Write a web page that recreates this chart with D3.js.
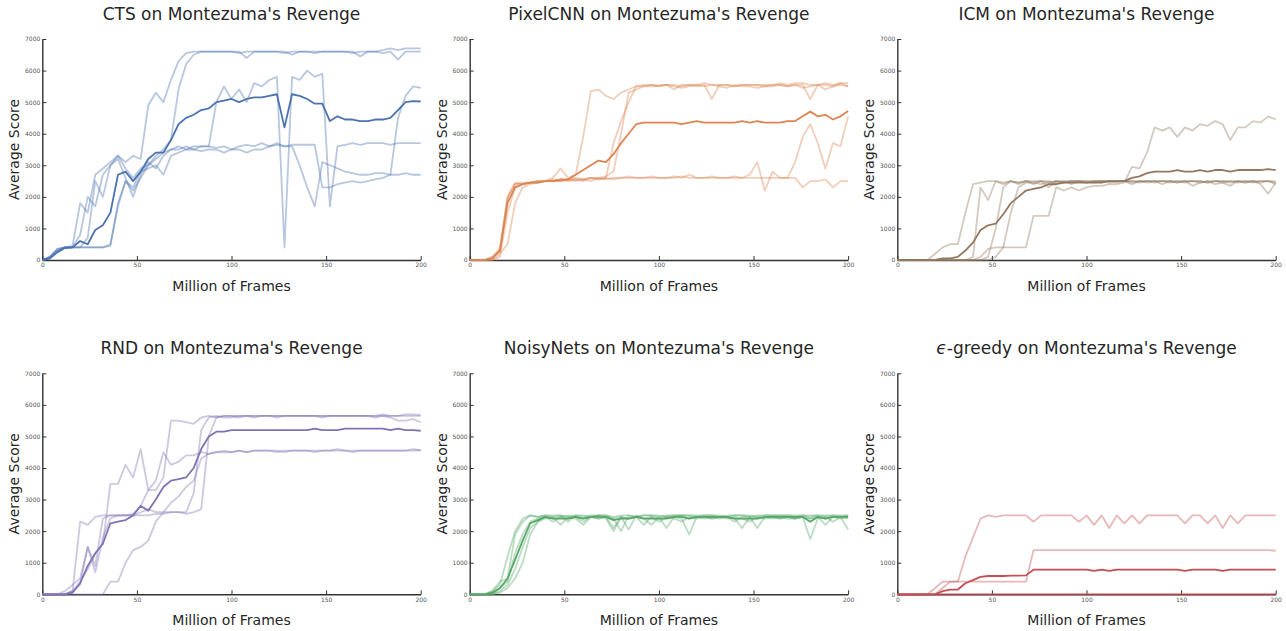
<!DOCTYPE html>
<html>
<head>
<meta charset="utf-8">
<script src="https://cdn.jsdelivr.net/npm/d3@7"></script>
<style>
body { margin: 0; background: #fff; }
svg { display: block; }
</style>
</head>
<body>
<div id="chart"></div>
<script>
// x positions (million frames) shared by every run
const frames = [0,4,8,12,16,20,24,28,32,36,40,44,48,52,56,60,64,68,72,76,80,84,88,92,96,100,
  104,108,112,116,120,124,128,132,136,140,144,148,152,156,160,164,168,172,176,180,184,188,192,196,200];
const xTicks = [0, 50, 100, 150, 200];
const yTicks = [0, 1000, 2000, 3000, 4000, 5000, 6000, 7000];

// CTS
const ctsRun1 = [0,100,300,400,450,1800,1500,2700,2900,3100, 3300,3100,3300,3200,4900,5300,5000,5700,6300,6550,
  6600,6600,6600,6600,6600,6600,6550,6600,6600,6600, 6600,6600,6600,6500,6600,6600,6600,6600,6600,6600,
  6600,6550,6600,6600,6600,6650,6700,6650,6700,6700,6700];
const ctsRun2 = [0,50,250,400,400,400,700,2500,2000,3000, 3300,2900,2600,2900,3000,3300,3500,3800,5400,6200,
  6500,6600,6600,6600,6600,6600,6600,6400,6600,6600, 6600,6600,6550,6600,6600,6600,6550,6600,6600,6600,
  6600,6600,6450,6600,6600,6550,6600,6350,6600,6600,6600];
const ctsRun3 = [0,100,350,400,400,400,400,400,400,500, 1700,2500,2200,2600,3000,3200,3400,3500,3500,3600,
  3500,3600,3600,5000,5500,5100,5400,5000,5600,5500, 5700,5800,400,5800,5700,6000,5800,5900,1700,3600,
  3650,3700,3650,3700,3700,3700,3650,3700,3700,3700,3700];
const ctsRun4 = [0,100,350,400,400,800,2000,1700,2700,3000, 3200,2600,2000,2700,3100,2900,3300,3500,3600,3500,
  3600,3600,3600,3550,3600,3500,3600,3650,3600,3700, 3600,3650,3600,3600,3000,2300,1700,3100,3000,2900,
  2800,2750,2700,2700,2750,2750,2700,2700,2750,2700,2700];
const ctsRun5 = [0,50,300,400,400,400,400,400,400,450, 1800,2500,2300,2800,2900,3000,2700,3300,3400,3500,
  3500,3450,3500,3500,3400,3500,3500,3400,3500,3500, 3600,3700,3600,3650,3650,3650,3650,2300,2300,2400,
  2450,2500,2450,2500,2550,2600,2700,4500,5200,5500,5450];
const ctsMean = [0,50,250,380,400,600,500,950,1100,1500, 2700,2800,2500,2800,3200,3400,3400,3800,4300,4500,
  4600,4750,4800,5000,5050,5100,5000,5100,5150,5150, 5200,5250,4200,5250,5200,5100,4950,4950,4400,4550,
  4450,4450,4400,4400,4450,4450,4500,4750,5000,5030,5020];

// PixelCNN
const pixRun1 = [0,0,0,100,300,2000,2400,2450,2450,2500, 2500,2600,2900,2600,2700,3900,5350,5400,5200,5100,
  5300,5400,5500,5550,5550,5500,5550,5550,5500,5550, 5550,5600,5550,5550,5550,5500,5550,5550,5550,5550,
  5550,5600,5550,5600,5600,5550,5550,5600,5550,5600,5600];
const pixRun2 = [0,0,0,50,400,1900,2400,2400,2450,2500, 2500,2500,2550,2500,2550,2500,2600,2550,2600,3700,
  4400,5000,5500,5500,5550,5500,5550,5500,5450,5500, 5550,5500,5550,5500,5450,5550,5500,5500,5450,5500,
  5500,5550,5500,5550,5450,5500,5550,5400,5500,5550,5500];
const pixRun3 = [0,0,0,0,200,500,1800,2300,2400,2450, 2500,2500,2500,2550,2500,2550,2500,2600,2650,2800,
  4000,5300,5400,5500,5500,5550,5550,5400,5550,5550, 5500,5550,5100,5550,5550,5500,5550,5550,5550,5500,
  5550,5550,5500,5550,5550,5100,5550,5550,5500,5600,5500];
const pixRun4 = [0,0,0,0,100,1500,2300,2400,2450,2500, 2500,2500,2500,2550,2550,2550,2600,2550,2600,2550,
  2600,2600,2600,2600,2600,2600,2600,2600,2650,2600, 2600,2600,2600,2600,2600,2600,2600,2600,2600,2600,
  2600,2600,2600,3100,3900,4300,3700,2900,3700,3600,4550];
const pixRun5 = [0,0,0,100,300,2000,2450,2400,2450,2450, 2500,2550,2500,2550,2600,2550,2600,2600,2550,2600,
  2600,2650,2600,2600,2650,2600,2600,2650,2600,2700, 2600,2600,2650,2600,2600,2650,2600,2700,3100,2200,
  2800,2600,2600,2600,2300,2500,2500,2550,2300,2500,2500];
const pixMean = [0,0,0,50,300,1800,2300,2400,2450,2450, 2500,2500,2550,2550,2700,2850,3000,3150,3100,3350,
  3700,4000,4300,4350,4350,4350,4350,4350,4300,4350, 4400,4350,4350,4350,4350,4350,4400,4350,4400,4350,
  4350,4350,4400,4400,4550,4700,4550,4600,4450,4550,4720];

// ICM
const icmRun1 = [0,0,0,0,0,200,400,500,500,1500, 2400,2450,2500,2500,2450,2500,2450,2500,2500,2500,
  2450,2500,2500,2500,2500,2500,2500,2500,2500,2500, 2500,2500,2500,2500,2500,2500,2500,2450,2500,2500,
  2500,2450,2500,2500,2500,2500,2450,2500,2500,2500,2500];
const icmRun2 = [0,0,0,0,0,0,0,0,0,0, 100,2300,1900,2500,2400,2500,2450,2500,2400,2500,
  2500,2450,2500,2400,2500,2450,2500,2500,2450,2500, 2500,2400,2500,2450,2500,2400,2500,2450,2500,2350,
  2450,2500,2400,2450,2350,2500,2450,2500,2400,2100,2450];
const icmRun3 = [0,0,0,0,0,0,0,0,0,0, 0,0,100,1000,2300,2500,2400,2500,2450,2500,
  2300,2500,2450,2500,2500,2450,2500,2500,2500,2450, 2500,2500,2450,2500,2500,2500,2450,2500,2500,2500,
  2500,2450,2500,2500,2450,2500,2500,2450,2500,2500,2400];
const icmRun4 = [0,0,0,0,0,0,0,0,0,0, 0,100,350,400,400,1500,2300,2450,2450,2400,
  2450,2500,2450,2500,2500,2500,2450,2500,2500,2500, 2500,2450,2500,2500,2450,2500,2500,2500,2450,2500,
  2450,2500,2500,2450,2500,2450,2500,2500,2450,2500,2450];
const icmRun5 = [0,0,0,0,0,0,0,0,0,0, 0,0,0,100,400,400,400,400,1400,1400,
  1400,2300,2200,2300,2200,2300,2350,2350,2400,2400, 2450,2950,2900,3400,4200,4100,4200,3900,4200,4100,
  4300,4250,4400,4300,3800,4200,4200,4400,4350,4550,4450];
const icmMean = [0,0,0,0,0,0,50,50,100,300, 550,950,1100,1150,1450,1800,2000,2200,2250,2300,
  2400,2400,2450,2450,2450,2450,2450,2450,2500,2500, 2500,2600,2650,2750,2800,2800,2800,2850,2800,2800,
  2850,2800,2850,2850,2800,2850,2850,2850,2850,2880,2850];

// RND
const rndRun1 = [0,0,0,0,100,2300,2200,2450,2500,2500, 2500,2500,2500,2500,2500,2550,2550,2600,2600,2550,
  2600,2700,5000,5600,5650,5650,5650,5650,5650,5650, 5650,5650,5650,5650,5650,5650,5650,5650,5650,5650,
  5650,5650,5650,5650,5650,5700,5650,5650,5700,5700,5680];
const rndRun2 = [0,0,0,0,100,400,800,1300,1600,3500, 3500,4100,3700,4600,3300,3600,4500,4100,4200,4400,
  4400,4500,4450,4500,4550,4500,4550,4500,4550,4550, 4550,4500,4550,4550,4550,4550,4500,4550,4550,4550,
  4550,4500,4550,4550,4550,4550,4550,4550,4550,4550,4570];
const rndRun3 = [0,0,0,100,300,500,1500,900,2400,2500, 2500,2500,2550,2800,3300,3300,3700,5500,5500,5450,
  5400,5600,5650,5600,5650,5650,5600,5650,5650,5650, 5650,5650,5650,5650,5650,5650,5650,5650,5650,5650,
  5650,5650,5650,5650,5600,5650,5600,5500,5500,5550,5450];
const rndRun4 = [0,0,0,0,0,0,0,0,0,400, 400,1000,1400,1500,1700,2300,2600,2900,3100,3400,
  3600,4300,4450,4500,4500,4500,4550,4500,4550,4550, 4550,4550,4500,4550,4550,4550,4550,4550,4550,4600,
  4550,4550,4550,4550,4550,4550,4550,4550,4550,4600,4550];
const rndRun5 = [0,0,0,0,100,300,1500,700,1800,2400, 2500,2500,2500,2600,2700,2600,2600,2600,2600,2600,
  3200,5200,5600,5650,5600,5600,5650,5650,5600,5650, 5650,5600,5650,5650,5650,5650,5650,5600,5650,5650,
  5650,5650,5650,5650,5650,5650,5650,5650,5650,5650,5650];
const rndMean = [0,0,0,0,50,350,900,1300,1600,2250, 2300,2350,2500,2800,2650,3000,3400,3600,3650,3700,
  4000,4600,5000,5150,5150,5200,5200,5200,5200,5200, 5200,5200,5200,5200,5200,5200,5250,5200,5200,5200,
  5250,5250,5250,5250,5250,5250,5200,5250,5200,5200,5180];

// NoisyNets
const noisyRun1 = [0,0,0,100,300,1200,2000,2400,2500,2450, 2500,2450,2500,2300,2500,2450,2500,2500,2500,2400,
  2000,2500,2450,2500,2500,2450,2500,2500,2500,2500, 2450,2500,2500,2500,2450,2500,2500,2450,2500,2500,
  2500,2500,2500,2500,2500,2450,2500,2500,2500,2450,2500];
const noisyRun2 = [0,0,0,0,200,400,1300,1900,2300,2400, 2450,2300,2450,2500,2450,2400,2450,2500,2400,2000,
  2450,2050,2500,2400,2450,2300,2450,2450,2500,2400, 2450,2450,2400,2450,2450,2300,2450,2450,2100,2450,
  2450,2400,2450,2400,2450,2400,2450,2400,2450,2450,2050];
const noisyRun3 = [0,0,0,0,100,300,800,1500,2100,2300, 2400,2450,2200,2450,2400,2200,2450,2400,2450,2400,
  2450,2400,2450,2400,2200,2450,2100,2450,2400,1900, 2450,2400,2450,2400,2450,2400,2100,2450,2400,2450,
  2400,2450,2400,2400,2450,1750,2400,2450,2300,2450,2400];
const noisyRun4 = [0,0,0,0,50,200,500,1000,1900,2300, 2450,2400,2450,2400,2450,2300,2450,2400,2450,2100,
  2450,2400,2450,2200,2450,2400,2450,2400,2300,2450, 2400,2450,2400,2450,2400,2450,2400,2300,2450,2400,
  2450,2400,2450,2400,2450,2400,2450,2200,2450,2400,2450];
const noisyRun5 = [0,0,0,100,400,500,1900,2300,2500,2450, 2500,2500,2500,2450,2500,2500,2450,2500,2500,2450,
  2500,2500,2450,2500,2500,2500,2450,2500,2500,2500, 2500,2500,2500,2450,2500,2500,2500,2500,2450,2500,
  2500,2500,2500,2450,2500,2500,2500,2450,2500,2500,2500];
const noisyMean = [0,0,0,50,200,500,1100,1700,2250,2350, 2450,2400,2400,2400,2450,2400,2450,2450,2450,2350,
  2400,2400,2450,2400,2400,2400,2400,2450,2450,2400, 2450,2450,2450,2450,2450,2400,2400,2400,2400,2450,
  2450,2450,2450,2450,2450,2300,2450,2400,2450,2450,2450];

// epsilon-greedy
const epsRun1 = [0,0,0,0,0,200,400,400,400,1200, 1800,2400,2500,2450,2500,2500,2500,2500,2300,2500,
  2500,2500,2500,2500,2300,2500,2200,2500,2100,2500, 2250,2500,2250,2500,2500,2500,2500,2500,2250,2500,
  2500,2250,2500,2100,2500,2250,2500,2500,2500,2500,2500];
const epsRun2 = [0,0,0,0,0,0,200,400,400,400, 400,400,400,400,400,400,400,400,1400,1400,
  1400,1400,1400,1400,1400,1400,1400,1400,1400,1400, 1400,1400,1400,1400,1400,1400,1400,1400,1400,1400,
  1400,1400,1400,1400,1400,1400,1400,1400,1400,1400,1380];
const epsRun3 = [0,0,0,0,0,0,0,0,0,0, 0,0,0,0,0,0,0,0,0,0, 0,0,0,0,0,0,0,0,0,0, 0,0,0,0,0,0,0,0,0,0, 0,0,0,0,0,0,0,0,0,0,0];
const epsRun4 = [0,0,0,0,0,0,0,0,0,0, 0,0,0,0,0,0,0,0,0,0, 0,0,0,0,0,0,0,0,0,0, 0,0,0,0,0,0,0,0,0,0, 0,0,0,0,0,0,0,0,0,0,0];
const epsRun5 = [0,0,0,0,0,0,0,0,0,0, 0,0,0,0,0,0,0,0,0,0, 0,0,0,0,0,0,0,0,0,0, 0,0,0,0,0,0,0,0,0,0, 0,0,0,0,0,0,0,0,0,0,0];
const epsMean = [0,0,0,0,0,0,100,150,150,350, 450,550,580,580,580,590,590,600,780,780,
  780,780,780,780,780,780,740,780,740,780, 780,780,780,780,780,780,780,780,740,780,
  780,780,780,740,780,780,780,780,780,780,780];

const panels = [
  { name: 'CTS', color: '#4C72B0', runs: [ctsRun1, ctsRun2, ctsRun3, ctsRun4, ctsRun5], mean: ctsMean },
  { name: 'PixelCNN', color: '#DD8452', runs: [pixRun1, pixRun2, pixRun3, pixRun4, pixRun5], mean: pixMean },
  { name: 'ICM', color: '#937860', runs: [icmRun1, icmRun2, icmRun3, icmRun4, icmRun5], mean: icmMean },
  { name: 'RND', color: '#8172B3', runs: [rndRun1, rndRun2, rndRun3, rndRun4, rndRun5], mean: rndMean },
  { name: 'NoisyNets', color: '#55A868', runs: [noisyRun1, noisyRun2, noisyRun3, noisyRun4, noisyRun5], mean: noisyMean },
  { name: 'eps', color: '#C44E52', runs: [epsRun1, epsRun2, epsRun3, epsRun4, epsRun5], mean: epsMean }
];

const width = 1286, height = 631;
const colX = [42.3, 469.7, 897.3];
const rowY = [39, 373.3];
const plotW = 378.4, plotH = 221;
const font = 'DejaVu Sans, sans-serif';

const svg = d3.select('#chart').append('svg').attr('width', width).attr('height', height);

panels.forEach(function (p, k) {
    const x0 = colX[k % 3], y0 = rowY[Math.floor(k / 3)];
    const x = d3.scaleLinear().domain([0, 200]).range([x0, x0 + plotW]);
    const y = d3.scaleLinear().domain([0, 7000]).range([y0 + plotH, y0]);
    const g = svg.append('g');

    // axes (ticks point inward, like the original)
    const yAx = g.append('g').attr('transform', `translate(${x0},0)`)
        .call(d3.axisLeft(y).tickValues(yTicks).tickFormat(d3.format('d'))
            .tickSizeInner(-4).tickSizeOuter(0).tickPadding(2));
    const xAx = g.append('g').attr('transform', `translate(0,${y0 + plotH})`)
        .call(d3.axisBottom(x).tickValues(xTicks).tickFormat(d3.format('d'))
            .tickSizeInner(-4).tickSizeOuter(0).tickPadding(3));
    [yAx, xAx].forEach(function (a) {
        a.select('.domain').attr('stroke', '#333').attr('stroke-width', 1.4);
        a.selectAll('.tick line').attr('stroke', '#333').attr('stroke-width', 1);
        a.selectAll('.tick text').attr('fill', '#555').attr('font-size', 6).attr('font-family', font);
    });

    // runs
    const line = d3.line().x((d, i) => x(frames[i])).y(d => y(d));
    g.append('g').selectAll('path').data(p.runs).enter().append('path')
        .attr('d', line).attr('fill', 'none')
        .attr('stroke', p.color).attr('stroke-opacity', 0.4)
        .attr('stroke-width', 1.8).attr('stroke-linejoin', 'round');
    g.append('path').datum(p.mean).attr('d', line).attr('fill', 'none')
        .attr('stroke', p.color).attr('stroke-width', 1.8).attr('stroke-linejoin', 'round');

    // labels
    const cx = x0 + plotW / 2;
    const title = g.append('text').attr('x', cx).attr('y', y0 - 19)
        .attr('text-anchor', 'middle').attr('font-size', 17).attr('font-family', font).attr('fill', '#262626');
    if (p.name === 'eps') {
        title.append('tspan').attr('font-style', 'italic').text('\u03f5');
        title.append('tspan').text("-greedy on Montezuma's Revenge");
    } else {
        title.text(p.name + " on Montezuma's Revenge");
    }
    g.append('text').attr('x', cx).attr('y', y0 + plotH + 31)
        .attr('text-anchor', 'middle').attr('font-size', 14).attr('font-family', font).attr('fill', '#262626')
        .text('Million of Frames');
    g.append('text').attr('transform', `translate(${x0 - 23},${y0 + plotH / 2}) rotate(-90)`)
        .attr('text-anchor', 'middle').attr('font-size', 14).attr('font-family', font).attr('fill', '#262626')
        .text('Average Score');
});
</script>
</body>
</html>
